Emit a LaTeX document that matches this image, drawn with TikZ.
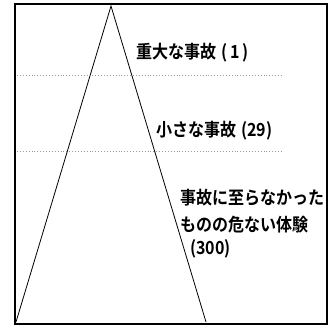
\documentclass[tikz,border=0pt]{standalone}
\usepackage{fontspec}
\newfontfamily\jp[FakeStretch=0.89]{Noto Sans CJK JP Bold}
\begin{document}
\begin{tikzpicture}[x=1pt,y=-1pt,
  lbl/.style={anchor=west,inner sep=0pt,font=\jp\fontsize{18}{21}\selectfont,align=left},
  sep/.style={gray!80,line width=0.9pt,dotted},
  edge/.style={black,line width=0.8pt}]
\useasboundingbox (0,0) rectangle (332,327);
\draw[line width=1.6pt] (15,4) rectangle (327,324);
\coordinate (apex) at (111,6);
\coordinate (bl) at (16,322);
\coordinate (br) at (206,322);
\draw[edge] (bl) -- (apex) -- (br);
\coordinate (d1l) at (17,75);
\coordinate (d1r) at (283,75);
\coordinate (d2l) at (17,151);
\coordinate (d2r) at (283,151);
\draw[sep] (d1l) -- (d1r);
\draw[sep] (d2l) -- (d2r);
\node[lbl] (t1) at (136,53) {重大な事故\hspace{5pt}(\,1\,)};
\node[lbl] (t2) at (156,131) {小さな事故\hspace{5pt}(29)};
\node[lbl] (t3) at (180,198) {事故に至らなかった};
\node[lbl] (t4) at (180,225) {ものの危ない体験};
\node[lbl] (t5) at (190,249) {(300)};
\end{tikzpicture}
\end{document}
